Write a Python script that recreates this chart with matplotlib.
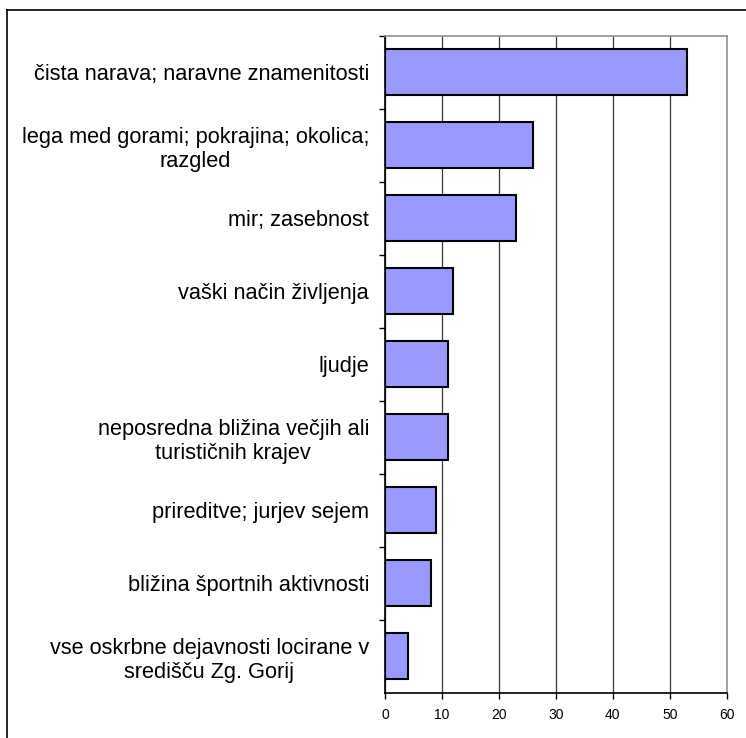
import matplotlib
matplotlib.use("Agg")
import matplotlib.pyplot as plt
from matplotlib.lines import Line2D

categories = [
    "čista narava; naravne znamenitosti",
    "lega med gorami; pokrajina; okolica;\nrazgled",
    "mir; zasebnost",
    "vaški način življenja",
    "ljudje",
    "neposredna bližina večjih ali\nturističnih krajev",
    "prireditve; jurjev sejem",
    "bližina športnih aktivnosti",
    "vse oskrbne dejavnosti locirane v\nsredišču Zg. Gorij",
]
values = [53, 26, 23, 12, 11, 11, 9, 8, 4]
x_ticks = [0, 10, 20, 30, 40, 50, 60]

plt.rcParams['font.family'] = ['Liberation Sans', 'DejaVu Sans']

fig = plt.figure(figsize=(7.46, 7.38), dpi=100)
ax = fig.add_axes([385 / 746, 1 - 692.7 / 738, 341.7 / 746, 656.7 / 738])

pos = list(range(len(categories)))
ax.barh(pos, values, height=0.63, color="#9999ff", edgecolor="black", linewidth=1.5, zorder=3)

ax.set_xlim(0, 60)
ax.set_ylim(len(categories) - 0.5, -0.5)
ax.set_xticks(x_ticks)
ax.set_xticklabels([str(t) for t in x_ticks], fontsize=10)
ax.xaxis.grid(True, color="#383838", linewidth=0.9, zorder=0)
ax.tick_params(axis="x", direction="out", length=4, width=1, pad=7)

ax.set_yticks(pos)
ax.set_yticklabels(categories, fontsize=15.7, multialignment="center", linespacing=1.22)
ax.tick_params(axis="y", which="major", length=0, pad=11.5)
ax.set_yticks([p + 0.5 for p in pos[:-1]] + [-0.5], minor=True)
ax.tick_params(axis="y", which="minor", direction="out", length=4, width=1)

for side in ["left", "bottom"]:
    ax.spines[side].set_color("black")
    ax.spines[side].set_linewidth(1.2)
for side in ["top", "right"]:
    ax.spines[side].set_color("#909090")
    ax.spines[side].set_linewidth(1.2)

# outer chart border (left and top edges visible)
fig.add_artist(Line2D([7 / 746, 7 / 746], [0, 1 - 10 / 738], color="black", linewidth=1.2))
fig.add_artist(Line2D([7 / 746, 1], [1 - 10 / 738, 1 - 10 / 738], color="black", linewidth=1.2))

fig.savefig("out.png", dpi=100)
